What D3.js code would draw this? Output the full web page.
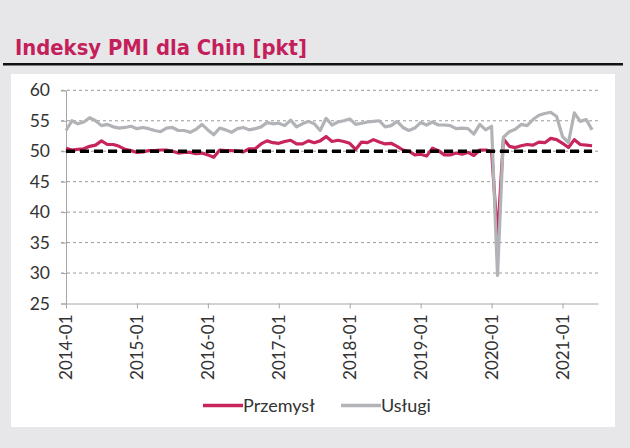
<!DOCTYPE html>
<html>
<head>
<meta charset="utf-8">
<script src="https://cdn.jsdelivr.net/npm/d3@7"></script>
<style>
html,body{margin:0;padding:0;background:#e7e7e9;}
svg{display:block;}
</style>
</head>
<body>
<svg id="chart" width="630" height="448"></svg>
<script>
// ---- data ----
const startYear = 2014;
const xTickLabels = ["2014-01","2015-01","2016-01","2017-01","2018-01","2019-01","2020-01","2021-01"];
const yTicks = [25,30,35,40,45,50,55,60];
const przemysl = [
 50.5,50.2,50.3,50.4,50.8,51.0,51.7,51.1,51.1,50.8,50.3,50.1,
 49.8,49.9,50.1,50.1,50.2,50.2,50.0,49.7,49.8,49.8,49.6,49.7,
 49.4,49.0,50.2,50.1,50.1,50.0,49.9,50.4,50.4,51.2,51.7,51.4,
 51.3,51.6,51.8,51.2,51.2,51.7,51.4,51.7,52.4,51.6,51.8,51.6,
 51.3,50.3,51.5,51.4,51.9,51.5,51.2,51.3,50.8,50.2,50.0,49.4,
 49.5,49.2,50.5,50.1,49.4,49.4,49.7,49.5,49.8,49.3,50.2,50.2,
 50.0,35.7,52.0,50.8,50.6,50.9,51.1,51.0,51.5,51.4,52.1,51.9,
 51.3,50.6,51.9,51.1,51.0,50.9
];
const uslugi = [
 53.4,55.0,54.5,54.8,55.5,55.0,54.2,54.4,54.0,53.8,53.9,54.1,
 53.7,53.9,53.7,53.4,53.2,53.8,53.9,53.4,53.4,53.1,53.6,54.4,
 53.5,52.7,53.8,53.5,53.1,53.7,53.9,53.5,53.7,54.0,54.7,54.5,
 54.6,54.2,55.1,54.0,54.5,54.9,54.5,53.4,55.4,54.3,54.8,55.0,
 55.3,54.4,54.6,54.8,54.9,55.0,54.0,54.2,54.9,53.9,53.4,53.8,
 54.7,54.3,54.8,54.3,54.3,54.2,53.7,53.8,53.7,52.8,54.4,53.5,
 54.1,29.6,52.3,53.2,53.6,54.4,54.2,55.2,55.9,56.2,56.4,55.7,
 52.4,51.4,56.3,54.9,55.2,53.5
];
const threshold = 50;
const seriesNames = ["Przemysł","Usługi"];
const colors = {przemysl:"#c8245d", uslugi:"#b1b3b6"};

// ---- layout ----
const svg = d3.select("#chart");
const W = 630, H = 448;
const plot = {left:66, right:598, top:90.3, bottom:303.5};

svg.append("rect").attr("x",0).attr("y",0).attr("width",W).attr("height",H).attr("fill","#e7e7e9");

// title
const title = svg.append("text")
  .attr("x",15).attr("y",55)
  .attr("font-family","DejaVu Sans Condensed, DejaVu Sans, sans-serif")
  .attr("font-size",22)
  .attr("font-weight","bold")
  .attr("fill","#c41f5b")
  .text("Indeksy PMI dla Chin [pkt]");
const tl = title.node().getComputedTextLength();
if (tl > 0) title.attr("font-size", 22 * 292 / tl);

svg.append("line").attr("x1",3).attr("x2",623).attr("y1",64.3).attr("y2",64.3)
  .attr("stroke","#111").attr("stroke-width",2.5);

// white panel
svg.append("rect").attr("x",11).attr("y",74).attr("width",604).attr("height",353).attr("fill","#ffffff");

const nMonths = 90;
const x = d3.scaleLinear().domain([0, nMonths]).range([plot.left, plot.right]);
const y = d3.scaleLinear().domain([25, 60]).range([plot.bottom, plot.top]);

// gridlines
const g = svg.append("g");
g.selectAll("line.grid").data(yTicks.filter(v => v > 25)).join("line")
  .attr("class","grid")
  .attr("x1",plot.left-5).attr("x2",plot.right)
  .attr("y1",d=>y(d)).attr("y2",d=>y(d))
  .attr("stroke","#9a9a9a").attr("stroke-width",1).attr("stroke-dasharray","3,3");

// y axis
const yAxis = d3.axisLeft(y).tickValues(yTicks).tickSize(5).tickPadding(11).tickFormat(d3.format("d"));
const ya = svg.append("g").attr("transform",`translate(${plot.left},0)`).call(yAxis);
ya.select(".domain").attr("stroke","#a6a6a6");
ya.selectAll(".tick line").attr("stroke","#a6a6a6");
ya.selectAll(".tick text").attr("font-family","Lato, sans-serif").attr("font-size",17.5).attr("fill","#333");

// x axis
const xTickVals = xTickLabels.map((d,i) => i*12);
const xAxis = d3.axisBottom(x).tickValues(xTickVals).tickSize(5).tickSizeOuter(0)
  .tickFormat((d,i) => xTickLabels[i]);
const xa = svg.append("g").attr("transform",`translate(0,${plot.bottom})`).call(xAxis);
xa.select(".domain").attr("stroke","#a6a6a6");
xa.selectAll(".tick line").attr("stroke","#a6a6a6");
xa.selectAll(".tick text")
  .attr("font-family","Lato, sans-serif").attr("font-size",17).attr("fill","#333")
  .attr("transform","rotate(-90)")
  .attr("text-anchor","end")
  .attr("x",-11).attr("y",0).attr("dy","0.35em");

// lines
const line = d3.line().x((d,i)=>x(i)).y(d=>y(d)).curve(d3.curveLinear);
svg.append("path").datum(przemysl).attr("d",line)
  .attr("fill","none").attr("stroke",colors.przemysl).attr("stroke-width",3.2).attr("stroke-linejoin","round");
svg.append("path").datum(uslugi).attr("d",line)
  .attr("fill","none").attr("stroke",colors.uslugi).attr("stroke-width",3.2).attr("stroke-linejoin","round");

// threshold dashed line
svg.append("path").datum(przemysl.map(()=>threshold)).attr("d",line)
  .attr("fill","none").attr("stroke","#000").attr("stroke-width",3.5).attr("stroke-dasharray","9,5");

// legend
const leg = svg.append("g");
const legItems = [
  {name:seriesNames[0], color:colors.przemysl, x1:203, x2:243},
  {name:seriesNames[1], color:colors.uslugi, x1:341, x2:381}
];
legItems.forEach(it => {
  leg.append("line").attr("x1",it.x1).attr("x2",it.x2).attr("y1",405.5).attr("y2",405.5)
    .attr("stroke",it.color).attr("stroke-width",3.5);
  leg.append("text").attr("x",it.x2).attr("y",405.5).attr("dy","0.35em")
    .attr("font-family","Lato, sans-serif").attr("font-size",18).attr("fill","#333")
    .text(it.name);
});
</script>
</body>
</html>
